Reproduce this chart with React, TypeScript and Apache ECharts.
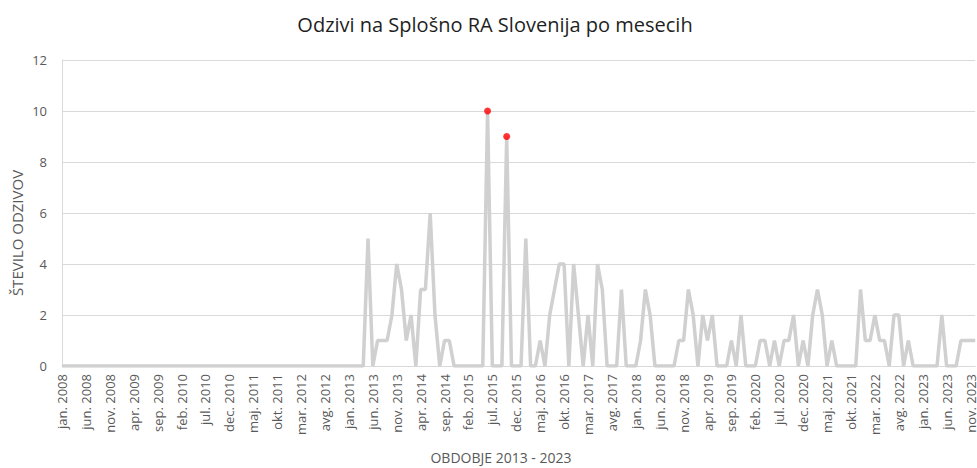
import React, { useEffect, useRef } from "react";
import * as echarts from "echarts";

const years = [2008, 2009, 2010, 2011, 2012, 2013, 2014, 2015, 2016, 2017, 2018, 2019, 2020, 2021, 2022, 2023];
const monthNames = ["jan.", "feb.", "mar.", "apr.", "maj.", "jun.", "jul.", "avg.", "sep.", "okt.", "nov.", "dec."];

const v2008 = [0, 0, 0, 0, 0, 0, 0, 0, 0, 0, 0, 0];
const v2009 = [0, 0, 0, 0, 0, 0, 0, 0, 0, 0, 0, 0];
const v2010 = [0, 0, 0, 0, 0, 0, 0, 0, 0, 0, 0, 0];
const v2011 = [0, 0, 0, 0, 0, 0, 0, 0, 0, 0, 0, 0];
const v2012 = [0, 0, 0, 0, 0, 0, 0, 0, 0, 0, 0, 0];
const v2013 = [0, 0, 0, 0, 5, 0, 1, 1, 1, 2, 4, 3];
const v2014 = [1, 2, 0, 3, 3, 6, 2, 0, 1, 1, 0, 0];
const v2015 = [0, 0, 0, 0, 0, 10, 0, 0, 0, 9, 0, 0];
const v2016 = [0, 5, 0, 0, 1, 0, 2, 3, 4, 4, 0, 4];
const v2017 = [2, 0, 2, 0, 4, 3, 0, 0, 0, 3, 0, 0];
const v2018 = [0, 1, 3, 2, 0, 0, 0, 0, 0, 1, 1, 3];
const v2019 = [2, 0, 2, 1, 2, 0, 0, 0, 1, 0, 2, 0];
const v2020 = [0, 0, 1, 1, 0, 1, 0, 1, 1, 2, 0, 1];
const v2021 = [0, 2, 3, 2, 0, 1, 0, 0, 0, 0, 0, 3];
const v2022 = [1, 1, 2, 1, 1, 0, 2, 2, 0, 1, 0, 0];
const v2023 = [0, 0, 0, 0, 2, 0, 0, 0, 1, 1, 1, 1];

const highlighted = ["jun. 2015", "okt. 2015"];
const yTicks = [0, 2, 4, 6, 8, 10, 12];

const title = "Odzivi na Splošno RA Slovenija po mesecih";
const yName = "ŠTEVILO ODZIVOV";
const xName = "OBDOBJE 2013 - 2023";

const categories: string[] = [];
years.forEach((y) => monthNames.forEach((m) => categories.push(`${m} ${y}`)));
const values: number[] = [
  ...v2008, ...v2009, ...v2010, ...v2011, ...v2012, ...v2013, ...v2014, ...v2015,
  ...v2016, ...v2017, ...v2018, ...v2019, ...v2020, ...v2021, ...v2022, ...v2023,
];

const FONT = "'Open Sans', 'Noto Sans', sans-serif";

export default function App() {
  const ref = useRef<HTMLDivElement>(null);
  useEffect(() => {
    if (!ref.current) return;
    const chart = echarts.init(ref.current, undefined, { renderer: "svg" });
    chart.setOption({
      animation: false,
      backgroundColor: "#ffffff",
      textStyle: { fontFamily: FONT },
      title: {
        text: title,
        left: 490,
        textAlign: "center",
        top: 9,
        textStyle: { fontFamily: FONT, fontSize: 20, fontWeight: "normal", color: "#1f1f1f" },
      },
      grid: { left: 62, right: 0, top: 60, bottom: 102, containLabel: false },
      xAxis: {
        type: "category",
        data: categories,
        boundaryGap: false,
        axisLine: { show: true, lineStyle: { color: "#d9d9d9", width: 1 } },
        axisTick: { show: false },
        splitLine: { show: false },
        axisLabel: { interval: 4, rotate: 90, fontSize: 13, color: "#595959", margin: 8, fontFamily: FONT },
      },
      yAxis: {
        type: "value",
        min: yTicks[0],
        max: yTicks[yTicks.length - 1],
        interval: 2,
        axisLine: { show: true, lineStyle: { color: "#d9d9d9" } },
        axisTick: { show: false },
        splitLine: { lineStyle: { color: "#d9d9d9", width: 1 } },
        axisLabel: { fontSize: 13, color: "#595959", margin: 15, fontFamily: FONT },
      },
      graphic: [
        {
          type: "text",
          x: 17,
          y: 233,
          rotation: Math.PI / 2,
          style: { text: yName, fill: "#595959", font: `15px ${FONT}`, textAlign: "center", textVerticalAlign: "middle" },
        },
        {
          type: "text",
          x: 501,
          y: 457,
          style: { text: xName, fill: "#595959", font: `14px ${FONT}`, textAlign: "center", textVerticalAlign: "middle" },
        },
      ],
      series: [
        {
          type: "line",
          data: values,
          symbol: "none",
          lineStyle: { color: "#d0d0d0", width: 3.5 },
          z: 2,
        },
        {
          type: "scatter",
          data: categories.map((c, i) => (highlighted.includes(c) ? values[i] : "-")),
          symbol: "circle",
          symbolSize: 7,
          itemStyle: { color: "#ff0000" },
          z: 3,
        },
      ],
    });
    return () => chart.dispose();
  }, []);
  return <div ref={ref} style={{ position: "absolute", left: 0, top: 0, width: 977, height: 468 }} />;
}
